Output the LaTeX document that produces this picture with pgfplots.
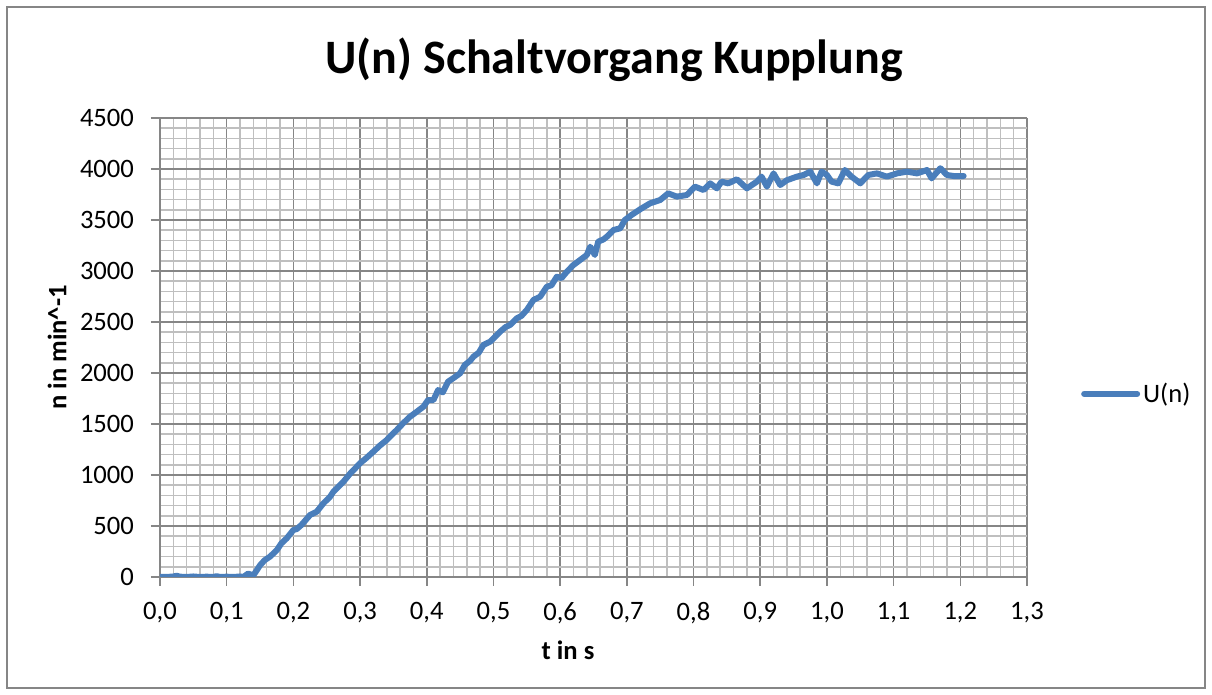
\documentclass[border=0pt]{standalone}
\usepackage{pgfplots}
\pgfplotsset{compat=1.18}
\usepackage{fontspec}
\setmainfont{Carlito}
\definecolor{series}{HTML}{4A7EBB}
\definecolor{majgrid}{HTML}{868686}
\definecolor{mingrid}{HTML}{BFBFBF}
\begin{document}
\begin{tikzpicture}
\useasboundingbox (0,0) rectangle (606pt,347.5pt);
\draw[color=majgrid, line width=1pt] (3.5pt,3.5pt) rectangle (602.5pt,344pt);
\begin{axis}[
  scale only axis, width=433.5pt, height=229.5pt,
  at={(80pt,59pt)}, anchor=south west,
  xmin=0, xmax=1.3, ymin=0, ymax=4500,
  xtick={0,0.1,0.2,0.3,0.4,0.5,0.6,0.7,0.8,0.9,1.0,1.1,1.2,1.3},
  ytick={0,500,1000,1500,2000,2500,3000,3500,4000,4500},
  minor x tick num=4, minor y tick num=4,
  grid=both,
  major grid style={majgrid, line width=0.75pt},
  minor grid style={mingrid, line width=0.75pt},
  axis x line*=bottom, axis y line*=left,
  axis line style={majgrid, line width=0.75pt},
  tick align=outside, major tick length=4.5pt, minor tick length=0pt,
  tick style={majgrid, line width=0.75pt},
  /pgf/number format/assume math mode=true,
  yticklabel style={font=\fontsize{13.3}{15}\selectfont, xshift=-5pt, /pgf/number format/set thousands separator={}},
  xticklabel style={font=\fontsize{13.3}{15}\selectfont, yshift=-4.5pt, /pgf/number format/.cd, fixed, fixed zerofill, precision=1, use comma},
  legend style={at={(1.062,0.399)}, anchor=west, draw=none, fill=none, inner sep=0pt, font=\fontsize{13.3}{15}\selectfont, nodes={inner xsep=1.5pt}},
  legend cell align=left,
  legend image code/.code={\draw[#1, line cap=round] (0pt,0pt) -- (26.5pt,0pt);},
]
\addplot[series, line width=3pt, line join=round, line cap=round] coordinates {
(0,0) (0.01,0) (0.02,5) (0.025,12) (0.03,3) (0.04,0) (0.05,5) (0.06,0) (0.07,3) (0.08,0) (0.085,8) (0.09,0) (0.1,3) (0.11,0) (0.12,5) (0.125,0) (0.132,33) (0.14,16)
(0.15,115) (0.157,165) (0.165,200) (0.175,262) (0.182,330) (0.19,379) (0.2,461) (0.205,470) (0.212,510) (0.225,608) (0.235,640) (0.245,722) (0.255,787) (0.26,836) (0.265,869) (0.275,934) (0.285,1013)
(0.3,1115) (0.31,1170) (0.32,1229) (0.33,1290) (0.34,1343) (0.347,1390) (0.355,1441) (0.365,1510) (0.375,1572) (0.385,1620) (0.395,1670) (0.402,1735) (0.41,1735) (0.417,1833) (0.424,1810) (0.432,1915) (0.44,1950) (0.45,1997) (0.457,2078) (0.465,2120) (0.47,2160) (0.478,2200) (0.485,2275) (0.495,2307) (0.5,2340)
(0.51,2405) (0.518,2450) (0.525,2471) (0.535,2536) (0.542,2560) (0.55,2618) (0.56,2716) (0.57,2748) (0.58,2846) (0.587,2860) (0.595,2944) (0.602,2930) (0.61,2993) (0.62,3059) (0.63,3108) (0.64,3157) (0.645,3238) (0.652,3157) (0.657,3287) (0.665,3310) (0.67,3336) (0.68,3402) (0.69,3418) (0.697,3500) (0.707,3549) (0.72,3605) (0.735,3664)
(0.75,3696) (0.762,3761) (0.775,3729) (0.79,3745) (0.802,3827) (0.815,3794) (0.825,3859) (0.835,3810) (0.842,3876) (0.852,3859) (0.865,3899) (0.88,3810) (0.895,3876) (0.902,3925) (0.91,3827) (0.92,3957) (0.93,3843) (0.94,3890) (0.955,3925) (0.965,3941) (0.975,3974) (0.985,3859) (0.992,3974) (1.0,3941) (1.007,3876) (1.017,3859) (1.027,3990) (1.037,3925) (1.05,3859) (1.062,3941) (1.075,3957) (1.09,3925) (1.105,3957) (1.12,3974) (1.135,3957) (1.15,3990) (1.157,3908) (1.17,4007) (1.18,3941) (1.19,3931) (1.205,3931)
};
\addlegendentry{U(n)}
\end{axis}
\node[font=\bfseries\fontsize{24}{28}\selectfont, anchor=base] at (307pt,310.5pt) {U(n) Schaltvorgang Kupplung};
\node[font=\bfseries\fontsize{13.3}{15}\selectfont, anchor=base] at (284pt,17.5pt) {t in s};
\node[font=\bfseries\fontsize{13.3}{15}\selectfont, rotate=90, anchor=center] at (28.5pt,173.75pt) {n in min\^{}-1};
\end{tikzpicture}
\end{document}
